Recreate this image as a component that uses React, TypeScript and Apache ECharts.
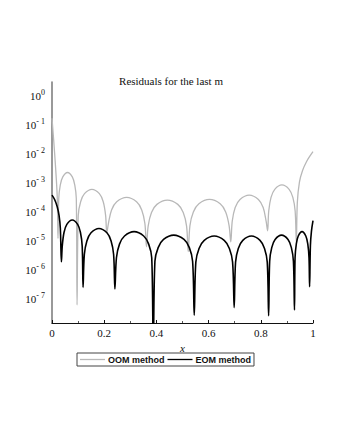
import React, { useEffect, useRef } from "react";
import * as echarts from "echarts";

const titleText = "Residuals for the last m";
const seriesNames = ["OOM method", "EOM method"];
const xTickLabels = ["0", "0.2", "0.4", "0.6", "0.8", "1"];

// OOM method (grey): x values and log10 of residual
const oomX = [
  0, 0.01, 0.02, 0.023,
  0.0259, 0.0318, 0.0413, 0.0595, 0.0778, 0.0872, 0.0931, 0.096,
  0.1006, 0.1097, 0.1245, 0.153, 0.1815, 0.1963, 0.2054, 0.21,
  0.2161, 0.2282, 0.248, 0.286, 0.324, 0.3438, 0.3559, 0.362,
  0.3684, 0.3812, 0.402, 0.442, 0.482, 0.5028, 0.5156, 0.522,
  0.5285, 0.5416, 0.5628, 0.6035, 0.6443, 0.6654, 0.6785, 0.685,
  0.6906, 0.7019, 0.7203, 0.7555, 0.7908, 0.8091, 0.8204, 0.826,
  0.8304, 0.8392, 0.8535, 0.881, 0.9085, 0.9228, 0.9316, 0.936,
  0.94, 0.948, 0.96, 0.975, 0.99, 1.0,
];
const oomLog = [
  -0.8, -2.0, -3.5, -4.94,
  -3.57, -3.1, -2.82, -2.67, -2.82, -3.1, -3.57, -7.24,
  -4.15, -3.68, -3.4, -3.25, -3.4, -3.68, -4.15, -4.75,
  -4.43, -3.96, -3.68, -3.53, -3.68, -3.96, -4.43, -5.23,
  -4.52, -4.05, -3.77, -3.62, -3.77, -4.05, -4.52, -5.4,
  -4.5, -4.03, -3.75, -3.6, -3.75, -4.03, -4.5, -5.06,
  -4.35, -3.88, -3.6, -3.45, -3.6, -3.88, -4.35, -4.68,
  -4.0, -3.53, -3.25, -3.1, -3.25, -3.53, -4.0, -5.06,
  -3.7, -3.0, -2.6, -2.3, -2.08, -1.95,
];

// EOM method (black)
const eomX = [
  0, 0.01, 0.02, 0.027, 0.032, 0.036,
  0.0393, 0.046, 0.0568, 0.0775, 0.0983, 0.109, 0.1157, 0.119,
  0.1239, 0.1336, 0.1495, 0.18, 0.2105, 0.2264, 0.2361, 0.241,
  0.2469, 0.2586, 0.2778, 0.3145, 0.3513, 0.3704, 0.3821, 0.388,
  0.3943, 0.4068, 0.4273, 0.4665, 0.5058, 0.5262, 0.5387, 0.545,
  0.5511, 0.5634, 0.5833, 0.6215, 0.6598, 0.6796, 0.6919, 0.698,
  0.7033, 0.7138, 0.731, 0.764, 0.797, 0.8142, 0.8247, 0.83,
  0.834, 0.8419, 0.8548, 0.8795, 0.9043, 0.9171, 0.925, 0.929,
  0.9313, 0.936, 0.9435, 0.958, 0.9725, 0.9801, 0.9847, 0.987,
  0.99, 0.994, 1.0,
];
const eomLog = [
  -3.45, -3.6, -3.85, -4.15, -4.6, -5.75,
  -5.21, -4.74, -4.46, -4.31, -4.46, -4.74, -5.21, -6.63,
  -5.5, -5.03, -4.75, -4.6, -4.75, -5.03, -5.5, -6.69,
  -5.61, -5.14, -4.86, -4.71, -4.86, -5.14, -5.61, -9.0,
  -5.73, -5.26, -4.98, -4.83, -4.98, -5.26, -5.73, -7.59,
  -5.76, -5.29, -5.01, -4.86, -5.01, -5.29, -5.76, -7.33,
  -5.76, -5.29, -5.01, -4.86, -5.01, -5.29, -5.76, -7.61,
  -5.73, -5.26, -4.98, -4.83, -4.98, -5.26, -5.73, -7.41,
  -5.61, -5.14, -4.86, -4.71, -4.86, -5.14, -5.61, -6.61,
  -5.2, -4.7, -4.33,
];

const yMinExp = -7.86;
const yMaxExp = 0.45;

const serif = "Liberation Serif";

export default function App() {
  const ref = useRef<HTMLDivElement>(null);
  useEffect(() => {
    if (!ref.current) return;
    const chart = echarts.init(ref.current, null, { renderer: "svg" });
    const oomData = oomX.map((x, i) => [x, Math.pow(10, oomLog[i])]);
    const eomData = eomX.map((x, i) => [x, Math.pow(10, eomLog[i])]);
    chart.setOption({
      animation: false,
      backgroundColor: "#fff",
      title: {
        text: titleText,
        left: 166,
        textAlign: "center",
        top: 70,
        textStyle: { fontFamily: serif, fontSize: 11, fontWeight: "normal", color: "#111" },
      },
      legend: {
        left: 77,
        top: 353,
        data: seriesNames.map((n) => ({ name: n, icon: "rect" })),
        itemWidth: 25,
        itemHeight: 1.3,
        itemGap: 3,
        padding: [2, 3, 2, 3],
        borderColor: "#444",
        borderWidth: 1,
        textStyle: { fontFamily: "Liberation Sans", fontWeight: "bold", fontSize: 9, color: "#111", padding: [0, 0, 0, -2] },
      },
      grid: { left: 52, right: 27, top: 82, bottom: 117 },
      xAxis: {
        type: "value",
        min: 0,
        max: 1,
        interval: 0.2,
        name: "x",
        nameLocation: "middle",
        nameGap: 12,
        nameTextStyle: { fontFamily: serif, fontStyle: "italic", fontSize: 11, color: "#111" },
        axisLine: { lineStyle: { color: "#111", width: 1 } },
        axisTick: { inside: true, length: 3, lineStyle: { color: "#111" } },
        minorTick: { show: true, splitNumber: 2, length: 2, lineStyle: { color: "#555" } },
        splitLine: { show: false },
        axisLabel: {
          fontFamily: serif,
          fontSize: 11,
          color: "#111",
          margin: 4,
          formatter: (v: number) => {
            const idx = Math.round(v / 0.2);
            return xTickLabels[idx] ?? "";
          },
        },
      },
      yAxis: {
        type: "log",
        logBase: 10,
        min: Math.pow(10, yMinExp),
        max: Math.pow(10, yMaxExp),
        splitNumber: 8,
        axisLine: { show: true, lineStyle: { color: "#777", width: 1.5 } },
        axisTick: { show: false },
        splitLine: { show: false },
        axisLabel: {
          showMinLabel: false,
          showMaxLabel: false,
          margin: 7,
          color: "#111",
          fontFamily: serif,
          formatter: (v: number) => {
            const e = Math.round(Math.log10(v));
            const s = e < 0 ? "- " + Math.abs(e) : String(e);
            return "{b|10}{s|" + s + "}";
          },
          rich: {
            b: { fontFamily: serif, fontSize: 11, color: "#111", verticalAlign: "bottom", lineHeight: 13 },
            s: { fontFamily: serif, fontSize: 8, color: "#111", verticalAlign: "bottom", lineHeight: 13, padding: [0, 0, 5, 0] },
          },
        },
      },
      series: [
        {
          name: seriesNames[0],
          type: "line",
          data: oomData,
          showSymbol: false,
          symbol: "none",
          smooth: 0.35,
          lineStyle: { color: "#b8b8b8", width: 1.3 },
          itemStyle: { color: "#b8b8b8" },
          z: 2,
        },
        {
          name: seriesNames[1],
          type: "line",
          data: eomData,
          showSymbol: false,
          symbol: "none",
          smooth: 0.35,
          lineStyle: { color: "#000", width: 1.6 },
          itemStyle: { color: "#000" },
          z: 3,
        },
      ],
    });
    return () => chart.dispose();
  }, []);
  return (
    <div
      ref={ref}
      style={{ position: "fixed", left: 0, top: 0, width: 340, height: 440, background: "#fff" }}
    />
  );
}
